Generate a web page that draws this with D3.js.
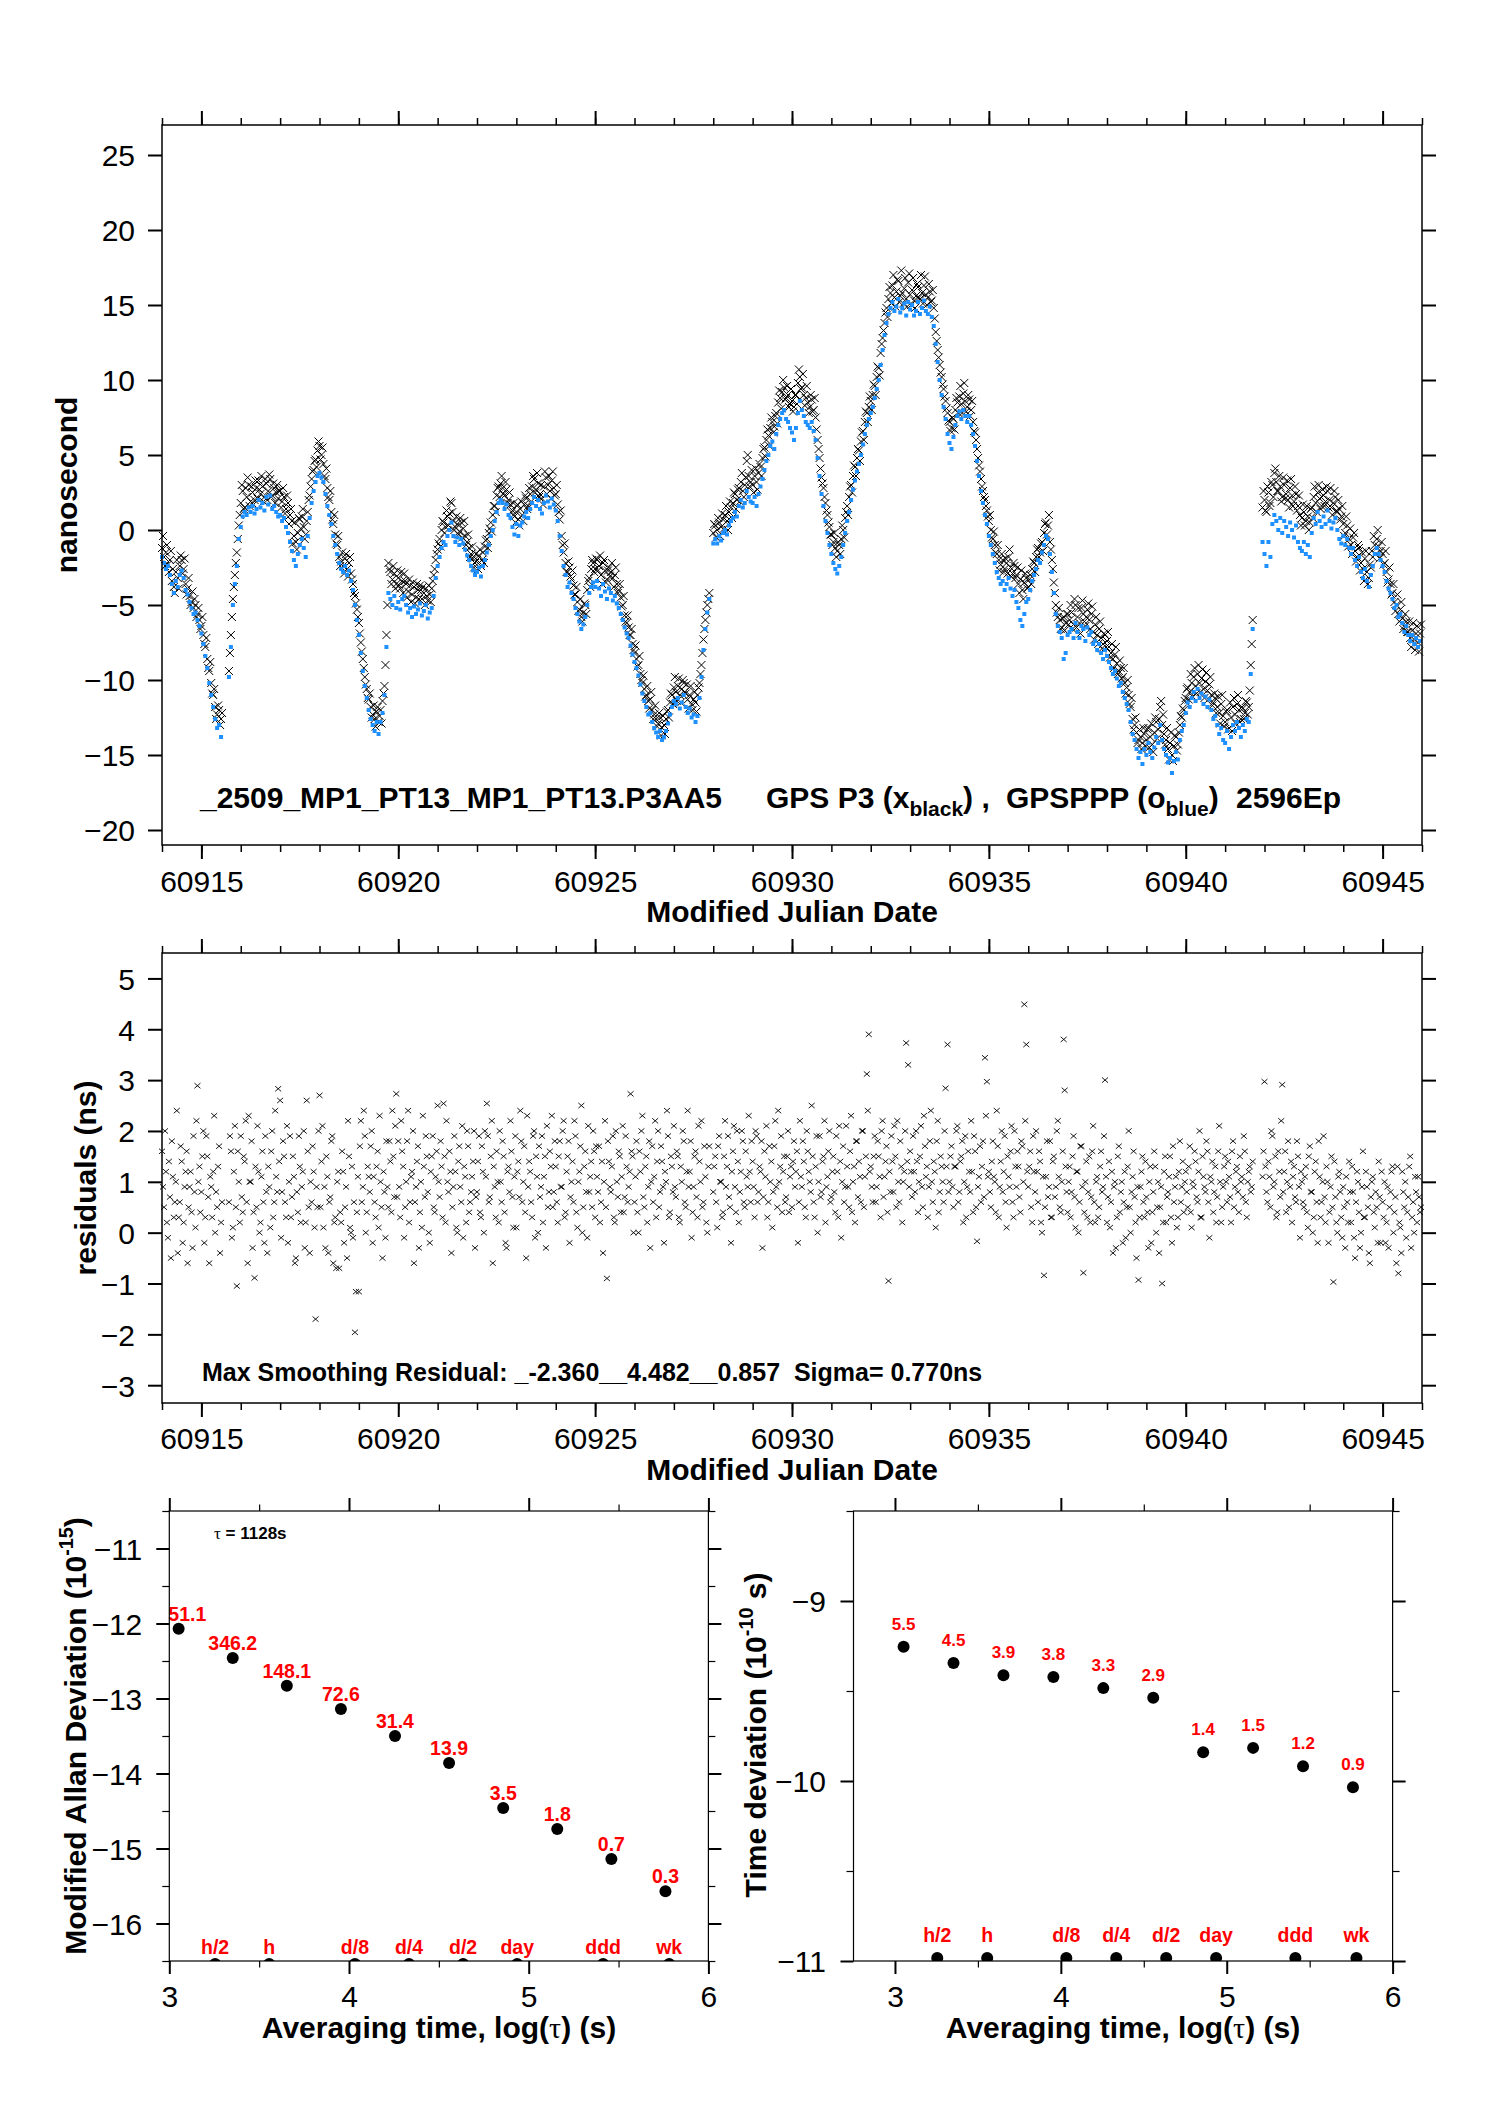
<!DOCTYPE html>
<html><head><meta charset="utf-8"><title>GPS P3 vs GPSPPP</title>
<script src="https://cdn.jsdelivr.net/npm/d3@7/dist/d3.min.js"></script>
<style>
html,body{margin:0;padding:0;background:#fff;}
svg{display:block;}
</style></head>
<body>
<svg id="chart" width="1488" height="2105" xmlns="http://www.w3.org/2000/svg"></svg>
<script>
// ---------------- DATA ----------------
// epochs: MJD 60914.00 + i*0.05 (series A) and 60914.025 + i*0.05 (series B); one row per day, 20 values
const mjdStart = 60914.0;
const mjdStartB = 60914.025;
const mjdStep = 0.05;

// GPS P3 clock offset (ns), black x
const p3Ns = [
-1.2,-1.8,-1.5,-2.3,-2.0,-3.4,-3.8,-2.8,-3.2,-2.4,-2.0,-2.6,-3.6,-3.9,-4.4,-4.8,-5.2,-5.0,-5.6,-6.0,
-6.4,-7.0,-7.8,-8.6,-9.4,-10.2,-11.0,-11.8,-12.3,-12.0,-12.6,null,null,null,-9.4,-7.0,-4.6,-3.0,-1.5,0.3,
1.8,2.6,1.5,2.2,3.0,1.9,2.5,2.0,2.8,3.3,2.4,2.9,2.2,3.1,2.6,3.4,2.3,2.8,2.5,2.1,
2.6,1.9,2.2,1.4,1.8,1.0,0.6,-0.4,-0.8,-0.2,0.7,0.9,0.2,-0.3,1.2,2.3,3.4,4.0,4.7,5.3,
5.6,5.0,4.4,3.4,2.8,2.0,1.2,0.4,-0.3,-1.0,-1.8,-2.1,-2.4,-1.9,-2.6,-2.2,-2.9,-3.6,-4.4,-5.3,
-6.2,-7.5,-8.6,-9.8,-10.6,-11.3,-11.8,-12.3,-12.6,-12.1,-12.8,-12.0,-11.4,-10.4,-7.0,-2.2,-2.8,-3.3,-2.9,-3.6,
-3.2,-3.9,-3.4,-2.9,-3.6,-4.1,-3.7,-4.3,-3.8,-4.5,-4.0,-3.7,-4.6,-4.2,-3.9,-4.7,-4.3,-3.9,-3.0,-2.0,
-1.3,-0.6,0.0,0.5,0.2,0.9,1.1,1.8,0.6,0.2,0.4,-0.1,0.5,0.1,-0.4,-0.8,-1.2,-1.6,-1.9,-2.2,
-2.0,-1.7,-2.4,-1.5,-1.1,-0.6,-0.2,0.5,1.0,1.6,2.3,2.9,3.1,2.8,2.3,2.7,2.0,1.7,1.3,0.9,
1.2,0.7,1.4,1.0,1.7,2.1,1.6,2.4,2.9,3.4,2.7,3.1,2.4,2.1,2.9,3.5,3.0,2.6,3.3,2.8,
2.4,1.7,0.7,-0.4,-1.5,-2.2,-2.8,-2.5,-3.3,-3.7,-4.3,-4.8,-5.3,-5.8,-5.5,-5.0,-4.0,-3.2,-2.6,-2.2,
-2.6,-2.0,-2.4,-3.0,-2.2,-2.7,-3.3,-2.5,-2.8,-3.2,-3.0,-3.6,-4.0,-4.5,-5.0,-5.7,-6.2,-6.5,-7.0,-7.6,
-8.2,-8.6,-9.0,-9.6,-10.2,-10.6,-11.0,-11.4,-11.3,-12.0,-12.3,-12.6,-12.9,-12.5,-13.2,-13.0,-12.6,-12.0,-11.5,-11.0,
-10.5,-10.8,-10.4,-11.0,-10.6,-10.2,-10.9,-11.3,-11.0,-11.6,-11.3,-11.5,-11.0,-10.2,-9.0,-7.3,-6.0,-5.0,-4.2,null,
-0.2,0.3,0.0,0.5,0.2,0.7,1.0,0.6,1.2,1.5,1.8,2.4,2.0,2.8,3.2,2.6,3.0,4.6,3.6,3.2,
3.0,3.6,3.2,3.8,4.2,4.8,5.5,6.0,6.3,6.8,7.2,6.9,7.8,8.5,8.8,9.2,9.5,8.8,9.0,8.4,
8.6,8.2,9.0,9.8,10.2,9.5,9.0,8.8,8.5,8.2,8.7,8.0,7.5,6.0,4.8,3.5,2.8,1.8,1.0,0.2,
-0.3,-0.8,-1.2,-1.4,-1.0,-0.6,0.0,0.8,1.6,2.2,3.0,3.6,4.2,4.8,5.3,5.9,6.6,7.2,7.8,8.2,
8.6,9.0,9.6,10.2,10.8,11.8,12.8,13.8,14.8,15.4,15.8,16.3,15.5,15.9,16.6,15.6,15.8,16.1,15.4,16.5,
15.7,16.0,15.3,15.6,16.2,15.4,15.8,16.3,15.7,15.5,15.9,15.3,14.8,13.2,12.0,11.0,10.2,9.4,8.6,7.8,
7.2,6.8,7.4,8.0,8.5,8.9,8.4,9.1,8.6,8.2,8.7,8.0,7.2,6.5,5.4,4.3,3.4,2.6,2.0,1.3,
0.6,0.0,-0.6,-1.0,-1.6,-2.0,-2.3,-2.0,-2.6,-2.2,-1.8,-2.5,-2.9,-2.4,-3.0,-3.6,-3.3,-4.0,-3.5,-3.2,
-3.8,-3.0,-2.6,-2.2,-1.8,-1.2,-1.5,-0.8,-0.2,0.5,0.3,-0.8,-2.0,-3.5,-5.0,-5.8,-6.0,-6.5,-5.8,-6.2,
-5.6,-6.0,-5.5,-6.3,-5.0,-5.8,-6.2,-5.2,-5.6,-6.4,-5.3,-6.0,-5.6,-6.8,-6.3,-7.0,-6.6,-7.2,-7.6,-7.0,
-7.4,-7.8,-8.2,-8.6,-8.3,-8.9,-9.4,-9.2,-9.8,-10.2,-10.5,-11.0,-11.8,-12.6,-13.0,-13.5,-14.0,-13.8,-14.2,-13.6,
-14.0,-13.2,-13.8,-14.3,-13.5,-12.8,-13.3,-11.8,-13.0,-13.6,-14.0,-14.6,-14.2,-15.0,-14.4,-13.8,-14.3,-13.0,-12.5,-12.0,
-11.2,-10.5,-10.8,-10.2,-9.8,-10.4,-9.6,-10.2,-9.9,-10.6,-10.1,-10.7,-10.3,-11.0,-11.5,-11.2,-11.8,-12.2,-11.6,-12.4,
-12.8,-12.0,-13.2,-12.5,-11.8,-12.3,-11.6,-12.0,-12.6,-11.9,-12.2,-11.5,-11.8,-9.0,-6.0,null,null,null,null,1.5,
2.0,1.2,2.5,1.8,3.0,3.8,3.2,2.6,2.9,2.2,3.0,2.4,2.0,2.8,2.3,1.9,2.4,1.6,1.0,0.8,
1.2,0.6,0.9,0.5,1.5,2.2,1.8,2.5,2.1,1.6,2.3,1.9,2.6,2.0,1.5,1.8,2.2,1.2,1.4,0.9,
0.4,-0.2,0.3,-0.6,-1.0,-0.5,-1.4,-1.8,-1.2,-2.2,-2.6,-1.9,-2.8,-3.2,-2.5,-1.8,-1.0,-0.6,-1.1,-1.4,
-1.6,-2.2,-2.8,-3.3,-3.6,-4.2,-4.8,-5.0,-5.6,-5.3,-5.9,-6.4,-6.1,-6.8,-7.2,-6.7,-7.3,-6.9,-7.5,-6.9
];
const p3NsB = [
-0.4,-2.4,-1.0,-2.8,-1.4,-2.6,-4.2,-2.0,-3.9,-1.7,-2.9,-1.9,-4.3,-3.2,-5.0,-4.1,-4.6,-5.8,-5.2,-6.6,
-5.8,-7.6,-7.2,-9.2,-8.8,-10.9,-10.6,-12.6,-11.7,-13.0,-12.2,null,null,null,-8.2,-5.8,-3.8,-2.2,-0.6,1.0,
3.0,1.4,2.8,3.5,1.6,2.9,1.7,3.3,2.1,2.7,3.6,1.9,3.4,2.0,3.7,2.2,3.1,1.8,3.0,2.6,
1.5,2.8,1.1,2.3,0.4,1.4,-0.9,0.5,-1.3,0.8,0.1,1.4,-0.6,0.6,2.0,2.9,3.9,4.6,4.2,5.9,
4.7,5.5,3.6,4.1,2.2,2.6,0.7,1.0,-0.9,-0.4,-2.4,-1.5,-2.9,-1.6,-3.1,-1.8,-3.3,-4.2,-4.9,-5.8,
-6.9,-8.1,-9.2,-10.3,-11.2,-10.9,-12.5,-11.7,-13.1,-11.8,-12.4,-12.9,-10.9,-9.0,-5.0,-2.6,-3.6,-2.4,-3.9,-2.7,
-3.7,-2.8,-4.2,-3.4,-4.5,-3.3,-4.8,-3.5,-4.9,-3.6,-4.6,-4.0,-3.8,-5.0,-4.4,-3.7,-4.8,-3.4,-2.6,-1.6,
-0.9,-1.1,0.6,-0.2,1.3,0.3,1.9,1.2,0.0,0.9,-0.3,0.8,-0.5,0.6,-1.0,-0.3,-1.8,-1.1,-2.5,-1.6,
-2.6,-1.3,-2.0,-2.2,-0.7,-1.2,0.1,-0.1,1.6,1.2,2.8,2.2,3.6,2.4,3.2,1.8,2.5,1.2,1.8,0.5,
1.7,0.3,1.9,0.6,2.3,1.4,2.8,1.9,3.6,2.5,3.8,2.2,3.0,1.7,3.9,2.4,3.6,2.1,3.9,2.3,
3.0,1.2,1.3,-1.0,-0.9,-2.8,-2.1,-3.1,-2.7,-4.3,-3.8,-5.4,-4.6,-6.1,-4.9,-5.6,-3.4,-3.8,-2.0,-2.8,
-1.9,-2.7,-1.7,-3.6,-2.0,-3.5,-2.7,-3.1,-2.2,-3.8,-2.5,-4.2,-3.6,-5.1,-4.4,-6.1,-5.7,-7.0,-6.6,-8.0,
-7.7,-9.1,-8.4,-10.0,-9.7,-11.1,-10.4,-11.9,-10.8,-12.6,-11.7,-13.1,-12.2,-13.7,-12.4,-13.6,-12.1,-12.5,-10.9,-11.6,
-9.8,-11.4,-9.9,-11.5,-10.0,-10.8,-10.3,-11.9,-10.4,-12.0,-10.8,-12.1,-10.5,-9.6,-8.2,-6.6,-5.5,-4.6,null,null,
0.4,-0.5,0.8,-0.4,1.1,0.1,1.6,0.0,1.9,0.8,2.5,1.4,2.7,1.9,3.8,2.2,3.5,5.0,2.9,4.0,
2.5,4.1,2.7,4.4,3.6,5.4,4.9,6.7,5.6,7.5,6.5,7.6,7.1,9.3,8.1,10.0,8.7,9.6,8.2,9.4,
7.9,9.0,8.4,10.7,9.4,10.4,8.3,9.6,7.8,9.0,7.9,8.8,6.7,5.4,4.1,3.1,2.2,1.3,0.5,-0.3,
-1.0,-0.2,-1.8,-0.8,-1.6,0.3,-0.5,1.2,1.0,2.9,2.5,4.3,3.6,5.4,4.6,6.5,6.0,7.9,7.2,8.9,
8.0,9.7,9.0,10.9,10.3,12.4,13.3,14.5,14.2,16.2,15.1,17.0,14.9,16.7,15.2,17.3,15.1,16.8,14.9,17.1,
15.0,16.8,14.8,16.4,15.5,17.0,15.1,16.9,15.0,16.4,15.2,16.0,14.1,12.6,11.5,10.5,9.7,8.9,8.1,7.3,
6.6,7.5,6.7,8.8,7.8,9.6,7.8,9.8,7.9,9.0,7.6,8.6,6.6,6.0,4.8,3.9,2.9,2.2,1.6,0.9,
1.0,-0.5,-0.1,-1.5,-1.0,-2.7,-1.6,-2.8,-1.9,-2.9,-1.3,-3.1,-2.2,-3.2,-2.5,-4.2,-2.7,-4.6,-2.9,-3.9,
-3.3,-3.6,-2.1,-2.8,-1.3,-1.8,-0.9,-1.4,0.4,-0.3,1.0,-1.3,-2.6,-4.2,-5.5,-5.2,-6.6,-5.9,-6.7,-5.6,
-6.3,-5.0,-6.6,-4.6,-6.5,-5.2,-6.9,-4.7,-6.1,-5.8,-4.9,-6.6,-5.1,-7.3,-5.8,-7.6,-6.1,-7.9,-6.9,-7.8,
-6.8,-8.5,-7.6,-9.2,-7.8,-9.6,-8.7,-9.9,-9.2,-10.9,-10.0,-11.6,-11.2,-13.3,-12.5,-14.2,-13.3,-14.6,-13.2,-14.4,
-13.3,-14.5,-12.9,-14.8,-12.5,-13.9,-12.6,-11.4,-12.3,-14.3,-13.2,-15.3,-13.5,-15.4,-13.7,-14.7,-13.5,-12.4,-11.9,-11.4,
-10.6,-11.3,-9.6,-11.1,-9.2,-10.9,-9.0,-10.8,-9.3,-11.2,-9.5,-11.3,-9.8,-11.7,-10.9,-12.2,-11.1,-12.9,-11.0,-13.1,
-12.1,-13.3,-11.5,-13.4,-11.2,-12.9,-11.0,-12.8,-11.8,-12.6,-11.4,-12.3,-10.7,-7.6,null,null,null,null,null,2.6,
1.3,2.9,1.6,3.2,2.2,4.1,2.6,3.6,1.9,3.5,2.1,3.3,1.5,3.4,1.6,2.9,1.3,2.3,0.3,1.7,
0.3,1.6,0.0,1.4,0.8,2.9,1.2,3.0,1.4,2.7,1.6,2.9,1.5,2.8,1.0,2.6,1.3,2.0,0.7,1.6,
-0.4,0.9,-1.1,0.1,-1.6,-0.2,-2.1,-1.0,-2.7,-1.5,-3.4,-1.4,-3.6,-2.3,-1.4,-0.4,-1.6,0.0,-1.9,-0.8,
-2.3,-1.4,-3.5,-2.5,-4.3,-3.6,-5.4,-4.3,-6.1,-4.8,-6.6,-5.6,-6.8,-6.1,-7.8,-6.2,-8.0,-6.4,-8.1,-6.3
];

// GPSPPP clock offset (ns), blue
const pppNs = [
-1.8,-2.2,-2.6,-2.4,-3.0,-3.6,-4.2,-3.4,-3.8,-3.0,-2.7,-3.2,-4.0,-4.3,-4.8,-5.2,-5.6,-5.5,-6.0,-6.4,
-6.9,-7.6,-8.4,-9.2,-10.2,-11.0,-11.8,-12.6,-13.2,-13.0,-13.8,null,null,null,-9.8,-7.8,-5.0,-3.6,-2.4,-0.6,
0.2,0.9,1.2,1.0,1.5,1.2,1.6,1.1,1.4,2.0,1.5,1.8,1.3,2.2,1.7,2.3,1.4,1.6,1.2,0.9,
1.0,0.6,0.8,0.2,-0.2,-0.8,-1.4,-2.0,-2.4,-1.6,-1.0,-0.6,-1.2,-1.8,-0.4,0.8,1.8,2.6,3.2,3.6,
3.8,3.5,3.2,2.4,1.6,1.0,0.4,-0.4,-1.0,-1.6,-2.2,-2.6,-2.8,-2.4,-3.0,-2.7,-3.4,-4.0,-5.0,-6.0,
-7.0,-8.2,-9.4,-10.4,-11.2,-12.0,-12.6,-13.0,-13.4,-12.8,-13.6,-12.8,-12.2,-11.0,-7.8,-4.2,-4.6,-5.0,-4.4,-5.2,
-4.8,-5.3,-4.6,-4.4,-5.0,-5.5,-5.2,-5.8,-5.1,-5.6,-5.3,-4.9,-5.7,-5.4,-5.0,-5.9,-5.5,-5.2,-4.4,-3.2,
-2.4,-1.8,-1.2,-0.8,-1.0,-0.4,0.0,0.5,-0.4,-0.8,-0.5,-1.0,-0.6,-0.9,-1.3,-1.7,-2.0,-2.4,-2.7,-3.0,
-2.8,-2.5,-3.1,-2.4,-2.0,-1.5,-1.0,-0.4,0.0,0.6,1.2,1.8,2.0,1.8,1.4,1.7,1.0,0.8,0.2,-0.3,
0.4,-0.4,0.3,0.5,0.9,1.2,0.8,1.4,1.8,2.2,1.6,2.0,1.4,1.1,1.8,2.3,1.9,1.5,2.1,1.7,
1.3,0.6,-0.4,-1.4,-2.4,-3.0,-3.8,-3.5,-4.2,-4.6,-5.2,-5.6,-6.1,-6.6,-6.3,-5.8,-5.0,-4.2,-3.8,-3.5,
-3.8,-3.4,-3.9,-4.4,-3.6,-4.1,-4.6,-3.9,-4.2,-4.7,-4.4,-4.9,-5.2,-5.6,-6.0,-6.5,-6.9,-7.2,-7.7,-8.3,
-8.8,-9.2,-9.7,-10.3,-10.9,-11.4,-11.8,-12.3,-12.2,-12.8,-13.2,-13.5,-13.8,-13.4,-14.0,-13.8,-13.4,-12.9,-12.3,-11.8,
-11.4,-11.6,-11.2,-11.9,-11.5,-11.0,-11.8,-12.2,-11.9,-12.5,-12.3,-12.8,-12.4,-11.2,-9.8,-8.0,-6.6,-5.5,-4.6,null,
-0.9,-0.6,-0.9,-0.4,-0.7,-0.2,0.0,-0.3,0.3,0.6,0.8,1.2,0.9,1.6,2.0,1.5,1.8,2.6,2.2,1.9,
1.8,2.2,1.6,2.4,2.9,3.4,4.0,4.6,5.0,5.6,5.9,5.4,6.4,7.0,7.4,7.8,8.0,7.4,7.2,6.8,
6.5,6.0,6.8,7.8,8.6,8.0,7.6,7.2,7.0,6.8,7.2,6.6,6.0,4.8,3.6,2.4,1.6,0.6,-0.2,-1.0,
-1.6,-2.2,-2.6,-2.9,-2.4,-1.8,-1.0,-0.2,0.6,1.2,2.0,2.7,3.3,3.9,4.4,5.0,5.7,6.4,7.0,7.4,
7.8,8.2,8.8,9.4,10.0,11.0,12.0,13.0,13.8,14.4,14.8,15.2,14.6,14.9,15.4,14.5,14.8,15.1,14.3,15.2,
14.7,15.0,14.3,14.6,15.2,14.4,14.8,15.3,14.6,14.4,14.9,14.2,13.6,12.4,11.2,10.0,9.0,8.2,7.4,6.4,
5.8,5.4,6.2,7.0,7.6,7.9,7.4,8.0,7.6,7.2,7.6,7.0,6.4,5.6,4.6,3.6,2.6,1.8,1.0,0.4,
-0.4,-1.0,-1.6,-2.2,-2.8,-3.2,-3.6,-3.4,-4.0,-3.6,-3.2,-3.9,-4.4,-4.0,-4.8,-5.2,-6.0,-6.4,-5.6,-4.8,
-4.6,-4.0,-3.4,-3.0,-2.6,-2.0,-2.2,-1.5,-1.0,-0.4,-0.6,-1.6,-2.8,-4.2,-5.6,-6.4,-6.8,-7.2,-8.6,-8.2,
-7.0,-6.8,-6.6,-7.2,-6.2,-6.8,-7.2,-6.4,-6.6,-7.4,-6.5,-7.0,-6.8,-7.6,-7.4,-8.0,-7.6,-8.2,-8.6,-8.0,
-8.4,-8.8,-9.2,-9.6,-9.4,-9.9,-10.4,-10.2,-10.8,-11.2,-11.6,-12.0,-12.8,-13.6,-14.0,-14.6,-15.2,-14.8,-15.6,-14.6,
-15.0,-14.2,-14.8,-15.2,-14.5,-13.8,-14.2,-13.0,-14.0,-14.6,-15.0,-15.5,-15.2,-16.2,-15.4,-14.8,-15.3,-14.0,-13.4,-13.0,
-12.2,-11.5,-11.8,-11.2,-10.8,-11.4,-10.6,-11.2,-10.9,-11.6,-11.1,-11.8,-11.3,-12.0,-12.6,-12.4,-13.0,-13.6,-13.2,-14.0,
-14.2,-13.4,-14.6,-13.8,-13.0,-13.4,-12.8,-13.2,-13.8,-13.0,-13.4,-12.6,-12.8,-9.6,-6.6,null,null,null,null,-0.8,
-1.6,-2.4,-0.8,-1.8,0.4,1.0,0.6,0.0,0.8,-0.2,0.6,0.2,-0.4,0.5,0.0,-0.5,0.3,-0.8,-1.2,-1.4,
-0.8,-1.6,-1.0,-1.8,-0.2,0.8,0.4,1.2,0.6,0.2,0.9,0.4,1.3,0.6,0.1,0.5,0.8,0.0,-0.6,-0.9,
-0.4,-1.0,-0.6,-1.2,-1.6,-1.2,-2.0,-2.4,-1.8,-2.8,-3.2,-2.6,-3.4,-3.8,-3.0,-2.4,-1.6,-1.2,-1.6,-2.0,
-2.4,-2.8,-3.4,-3.9,-4.2,-4.6,-5.2,-5.0,-5.8,-5.6,-6.2,-6.8,-6.4,-7.0,-7.4,-7.0,-7.6,-7.2,-7.8,-7.4
];

// smoothing residuals (ns), black x
const residNs = [
1.6,0.5,1.2,-0.1,0.7,1.8,0.3,1.0,-0.4,0.6,1.4,0.2,1.2,-0.6,0.9,0.4,1.9,0.1,2.89,1.3,
0.8,2.0,0.3,1.5,-0.6,0.9,1.2,0.0,0.5,1.7,0.2,null,null,null,0.6,1.6,0.1,2.1,-1.05,1.0,
1.9,0.4,1.4,0.6,2.3,1.0,-0.3,-0.89,0.5,1.2,0.2,1.6,-0.2,0.8,1.3,0.1,2.0,0.6,1.1,2.83,
2.6,0.8,1.5,0.3,-0.2,1.9,0.7,1.1,-0.5,0.4,1.3,0.9,2.0,0.2,1.6,-0.4,0.6,1.2,-1.7,0.5,
2.7,1.4,0.1,-0.3,1.1,0.6,1.8,-0.6,0.3,1.0,-0.7,0.2,1.2,0.5,-0.5,1.5,0.0,-0.1,-1.96,0.4,
-1.16,2.2,0.9,1.9,0.4,1.1,1.7,-0.2,0.6,1.3,0.1,1.0,-0.5,0.8,1.8,0.5,1.4,2.4,0.7,2.73,
1.8,0.3,1.6,-0.1,1.0,2.4,0.6,1.2,-0.6,0.9,1.7,0.4,0.1,1.3,1.9,0.8,-0.2,1.5,0.5,1.1,
2.5,0.7,1.3,2.54,0.2,1.0,1.6,-0.4,0.9,1.2,0.0,1.7,0.6,-0.1,1.1,2.0,0.4,0.8,1.4,-0.3,
0.8,1.9,0.3,1.2,2.0,2.54,0.6,1.5,-0.6,0.9,1.6,0.2,1.0,1.8,0.4,-0.3,1.3,2.2,0.7,1.1,
0.1,1.4,2.4,0.6,1.7,-0.5,0.9,1.2,0.3,2.0,1.5,0.0,0.7,1.9,1.1,-0.3,0.5,1.6,2.3,0.8,
1.3,0.2,1.8,0.9,2.2,0.4,1.5,-0.2,1.0,0.6,1.9,0.1,1.2,2.5,0.5,1.6,-0.1,0.8,1.4,2.0,
0.3,1.1,1.7,0.6,-0.4,2.2,-0.9,1.4,0.8,1.9,0.2,1.0,1.6,0.4,2.1,0.7,1.3,0.9,2.73,1.5,
0.6,1.8,0.0,1.2,2.3,0.5,1.5,0.9,-0.3,1.7,1.1,0.3,2.0,0.8,1.4,-0.2,1.0,1.9,0.4,1.3,
2.1,0.7,1.5,0.2,1.0,1.8,0.5,2.4,1.2,-0.1,0.9,1.6,0.3,1.4,2.2,0.6,1.1,0.0,1.7,null,
0.8,1.5,0.1,1.9,1.0,0.4,2.2,1.3,0.7,-0.2,1.6,0.9,2.0,0.2,1.2,1.8,0.5,1.1,2.3,0.6,
1.4,0.3,1.9,0.8,1.2,-0.3,1.6,2.1,0.6,1.0,0.1,1.7,0.9,2.4,1.3,0.4,1.5,0.7,2.0,1.1,
0.5,1.8,1.2,-0.2,2.2,0.9,1.4,0.3,1.6,1.0,2.5,0.6,1.3,0.0,1.9,0.8,1.5,0.2,1.1,2.0,
0.7,1.5,0.4,1.2,2.1,-0.1,1.7,0.9,1.3,0.5,2.3,1.0,0.2,1.8,1.4,0.6,2.0,1.1,3.12,3.9,
1.3,0.6,1.9,0.9,1.5,0.3,2.2,1.1,1.7,-0.95,0.8,1.4,2.1,0.5,1.0,1.8,0.2,1.2,3.73,3.3,
1.6,0.7,1.2,2.0,0.4,1.5,0.9,2.3,1.1,0.3,1.8,1.0,1.4,0.1,2.2,0.8,1.3,0.6,2.84,3.7,
1.0,1.7,0.5,1.3,2.1,0.8,1.5,0.2,1.9,0.9,1.2,2.2,0.4,1.6,-0.17,1.1,0.6,1.8,3.44,2.97,
1.2,0.5,1.8,1.0,2.4,0.3,1.4,0.8,1.9,0.1,1.1,1.6,0.6,2.0,0.9,1.3,0.4,1.7,4.49,3.7,
0.9,1.6,0.2,1.2,2.0,0.6,1.4,0.0,-0.84,1.1,0.7,1.8,0.3,1.5,0.9,2.2,0.5,1.0,3.8,1.3,
0.4,1.3,0.8,1.9,0.1,1.2,0.6,1.7,-0.79,1.0,0.3,1.5,0.7,2.1,0.2,1.1,0.5,1.6,0.9,3.0,
0.2,1.4,0.6,-0.4,1.0,0.3,1.7,0.8,-0.2,1.2,0.5,2.0,0.0,1.1,0.7,-0.5,-0.93,0.9,1.5,0.3,
0.7,-0.3,1.3,0.4,1.6,0.0,1.0,0.5,-1.0,1.2,0.2,0.8,1.5,-0.2,0.6,1.1,0.3,1.8,0.9,0.4,
1.2,0.5,1.7,0.1,0.9,1.4,0.6,2.0,0.3,1.1,0.8,1.6,-0.1,1.0,0.4,1.3,0.7,2.1,0.2,0.9,
1.5,0.6,1.1,0.2,1.8,0.9,1.3,0.4,1.0,0.7,1.6,0.3,1.2,0.8,1.4,null,null,null,null,1.1,
2.97,0.8,1.4,0.5,1.9,1.0,0.3,1.6,0.7,2.91,1.2,0.4,1.8,0.9,0.2,1.3,0.6,1.5,-0.1,1.0,
0.5,1.3,0.1,1.7,0.8,0.3,1.4,-0.2,1.1,0.6,1.9,0.2,1.0,0.4,1.5,-0.97,0.7,0.0,1.2,0.3,
0.9,-0.3,0.6,1.4,0.2,0.8,-0.5,1.2,0.4,0.0,1.6,0.3,0.9,-0.4,0.7,1.1,0.1,0.5,1.4,-0.2,
0.6,1.0,0.2,-0.3,0.8,1.3,0.4,-0.6,-0.8,0.1,1.2,0.5,-0.1,0.7,1.5,0.3,0.0,0.8,1.1,0.4
];
const residNsB = [
0.9,2.0,0.2,1.4,-0.5,1.1,0.6,2.4,0.3,1.7,-0.2,0.9,1.6,0.5,1.2,-0.3,0.8,2.2,1.0,0.4,
1.5,-0.2,1.9,0.7,1.1,0.3,2.3,0.8,1.3,-0.4,0.6,null,null,null,1.9,-0.1,1.2,0.5,1.6,0.2,
0.7,1.5,2.2,-0.6,1.0,1.8,0.4,1.3,2.1,0.0,1.1,0.6,1.9,-0.4,0.9,1.6,0.3,2.4,0.8,1.4,
-0.1,1.8,0.6,2.1,1.0,0.3,1.5,-0.6,0.8,1.9,0.2,1.2,-0.3,2.6,0.5,1.0,1.7,0.1,0.9,2.0,
0.5,2.1,0.9,1.5,-0.4,0.7,1.9,0.2,-0.7,1.2,0.4,1.6,-0.2,0.9,2.2,0.1,1.3,0.6,-1.16,1.1,
1.7,0.6,2.4,0.0,1.3,0.8,2.0,1.1,0.3,1.6,2.3,0.5,1.2,-0.1,0.9,1.8,0.4,1.5,2.1,0.7,
0.9,2.2,1.3,0.5,1.8,0.2,1.1,2.0,0.6,1.4,-0.3,1.0,2.3,0.7,1.5,0.0,1.2,1.9,0.4,1.6,
1.0,1.8,0.3,1.5,2.2,0.8,1.2,0.5,1.9,0.1,1.4,0.9,2.1,1.3,0.2,1.7,0.6,1.1,2.0,0.7,
1.4,0.4,1.7,0.0,1.1,1.9,0.7,2.2,1.3,0.3,1.0,2.0,0.6,1.5,-0.2,1.2,0.8,1.6,0.1,1.9,
1.2,0.7,1.8,1.0,0.4,2.3,1.4,0.6,1.9,-0.1,1.1,1.7,0.9,0.2,1.5,2.1,0.8,1.3,0.5,1.8,
0.6,1.5,0.9,2.0,0.3,1.2,1.8,0.7,1.4,2.2,0.4,1.0,1.7,0.0,1.3,0.8,2.1,1.1,0.5,1.6,
1.7,0.8,0.2,1.4,1.0,0.5,1.8,0.9,1.3,0.3,2.0,0.7,1.5,1.1,0.4,1.9,0.6,1.2,1.6,0.0,
1.1,0.4,1.6,2.0,0.7,1.3,0.2,1.8,1.0,0.6,2.2,1.4,0.5,1.7,0.9,1.2,2.4,0.3,1.5,0.8,
0.9,1.6,0.3,1.3,2.0,0.6,1.2,0.9,1.8,0.4,1.5,0.7,2.1,1.0,0.5,1.7,0.2,1.3,null,null,
1.3,0.6,1.7,1.0,0.3,1.5,0.9,1.9,0.5,1.2,2.1,0.4,1.4,0.8,2.0,0.6,1.6,0.9,1.2,1.8,
0.9,2.0,0.6,1.3,1.8,0.7,1.1,0.3,1.7,1.4,0.8,2.2,0.5,1.0,1.9,1.2,0.6,1.5,0.4,1.3,
1.4,0.9,1.6,0.6,1.1,1.8,0.5,2.0,1.2,0.8,1.5,0.3,1.9,1.0,0.7,1.4,2.2,0.9,1.6,0.6,
1.2,0.8,1.9,0.3,1.4,1.0,0.6,2.1,0.9,1.6,0.4,1.3,1.8,0.7,1.1,2.0,0.5,1.5,2.4,1.2,
0.9,1.5,0.6,1.8,1.1,2.0,0.7,1.4,0.4,1.2,1.9,0.8,1.5,2.2,0.6,1.3,1.0,2.0,1.4,0.9,
1.2,1.9,0.8,1.4,1.0,2.1,0.5,1.7,1.3,0.9,2.4,0.6,1.2,1.8,0.4,1.5,1.0,2.0,1.3,0.8,
1.5,0.9,1.3,2.0,0.6,1.4,1.8,1.0,0.3,1.6,0.8,1.2,1.9,0.5,0.9,1.7,1.3,0.7,2.3,1.1,
0.8,1.4,1.1,0.4,1.7,0.9,2.0,1.2,0.6,1.5,0.9,2.1,0.3,1.3,1.6,0.7,1.8,1.0,2.2,1.2,
1.3,0.5,1.9,0.8,1.2,1.6,0.2,1.1,0.5,1.8,0.9,0.3,1.4,0.7,2.0,1.1,0.4,1.6,2.8,0.8,
1.0,0.3,1.5,0.7,1.2,0.0,1.7,0.9,0.4,1.4,0.8,0.2,1.6,0.6,1.0,0.3,1.3,0.8,1.9,1.1,
0.7,0.1,1.2,0.9,-0.3,1.5,0.4,1.0,0.6,-0.1,1.3,0.5,0.8,1.6,0.2,0.9,0.3,1.2,0.6,1.4,
0.4,1.0,-0.2,0.8,1.3,0.5,-0.4,0.9,0.2,1.5,0.7,1.1,0.3,1.7,0.9,0.1,1.2,0.6,1.4,1.0,
0.8,1.3,0.4,1.0,1.6,0.7,1.2,0.3,1.5,0.9,1.8,0.6,1.1,1.4,0.8,0.2,1.6,1.0,0.5,1.3,
1.0,1.4,0.7,1.6,0.5,1.2,0.8,1.5,1.1,1.9,0.6,1.0,1.3,0.9,null,null,null,null,null,1.6,
1.3,0.6,1.1,2.0,0.9,1.5,0.4,1.2,2.2,0.8,1.6,1.0,0.5,1.4,1.1,0.7,1.8,0.9,1.2,0.6,
1.1,0.4,1.5,0.8,0.0,1.2,0.6,1.8,0.3,1.0,0.7,1.3,-0.2,0.9,0.5,1.4,0.2,1.1,0.8,-0.1,
0.5,1.1,0.2,0.8,1.3,-0.1,0.6,1.0,-0.3,0.9,0.3,1.2,0.5,-0.6,1.0,0.4,0.8,-0.2,0.7,1.2,
0.3,-0.2,0.9,0.5,1.2,0.0,0.7,1.3,0.2,-0.4,0.8,1.0,0.4,1.3,-0.3,0.6,1.1,0.2,0.7,0.5
];

const mjdMajorTicks = [60915, 60920, 60925, 60930, 60935, 60940, 60945];
const mjdMinorTicks = d3.range(60914, 60947, 1);
const nsTicks = [-20, -15, -10, -5, 0, 5, 10, 15, 20, 25];
const residTicks = [-3, -2, -1, 0, 1, 2, 3, 4, 5];

// stability analysis
const logTau = [3.052, 3.353, 3.654, 3.955, 4.256, 4.557, 4.858, 5.159, 5.460, 5.761];
const modAdevLog = [-12.07, -12.46, -12.83, -13.14, -13.50, -13.86, -14.46, -14.74, -15.14, -15.57];
const modAdevLabels = ["51.1", "346.2", "148.1", "72.6", "31.4", "13.9", "3.5", "1.8", "0.7", "0.3"];
const tdevLog = [-9.254, -9.345, -9.413, -9.422, -9.484, -9.537, -9.840, -9.816, -9.918, -10.035];
const tdevLabels = ["5.5", "4.5", "3.9", "3.8", "3.3", "2.9", "1.4", "1.5", "1.2", "0.9"];
const periodNames = ["h/2", "h", "d/8", "d/4", "d/2", "day", "ddd", "wk"];
const periodLogTau = [3.255, 3.556, 4.033, 4.334, 4.635, 4.936, 5.414, 5.782];
const logTauMajor = [3, 4, 5, 6];
const logTauMinor = [3.5, 4.5, 5.5];
const adevMajor = [-16, -15, -14, -13, -12, -11];
const adevMinor = [-16.5, -15.5, -14.5, -13.5, -12.5, -11.5, -10.5];
const tdevMajor = [-11, -10, -9];
const tdevMinor = [-10.5, -9.5, -8.5];

// ---------------- DRAWING ----------------
const FONT = "'Liberation Sans', Arial, Helvetica, sans-serif";
const svg = d3.select("#chart");
svg.append("rect").attr("width", 1488).attr("height", 2105).attr("fill", "#fff");

function addAxis(axis, transform, fontSize, sw, dy) {
  const g = svg.append("g").attr("transform", transform).call(axis);
  g.select(".domain").remove();
  g.selectAll(".tick line").attr("stroke", "#000").attr("stroke-width", sw);
  const t = g.selectAll(".tick text").attr("font-size", fontSize).attr("font-family", FONT).attr("fill", "#000");
  if (dy) t.attr("dy", dy);
  return g;
}

function frame(p, sw) {
  svg.append("rect").attr("x", p.left).attr("y", p.top)
    .attr("width", p.right - p.left).attr("height", p.bottom - p.top)
    .attr("fill", "none").attr("stroke", "#000").attr("stroke-width", sw);
}

function axesSet(p, xs, ys, o) {
  addAxis(d3.axisBottom(xs).tickValues(o.xMinor).tickSize(o.xMinLen).tickFormat(""), `translate(0,${p.bottom})`, 10, o.sw);
  addAxis(d3.axisTop(xs).tickValues(o.xMinor).tickSize(o.xMinLen).tickFormat(""), `translate(0,${p.top})`, 10, o.sw);
  addAxis(d3.axisBottom(xs).tickValues(o.xMajor).tickSize(o.xMajLen).tickPadding(o.xPad).tickFormat(o.xFmt), `translate(0,${p.bottom})`, o.tickFont, o.swMaj);
  addAxis(d3.axisTop(xs).tickValues(o.xMajor).tickSize(o.xMajLen).tickFormat(""), `translate(0,${p.top})`, 10, o.swMaj);
  if (o.yMinor) {
    addAxis(d3.axisLeft(ys).tickValues(o.yMinor).tickSize(o.yMinLen).tickFormat(""), `translate(${p.left},0)`, 10, o.sw);
    addAxis(d3.axisRight(ys).tickValues(o.yMinor).tickSize(o.yMinLen).tickFormat(""), `translate(${p.right},0)`, 10, o.sw);
  }
  addAxis(d3.axisLeft(ys).tickValues(o.yMajor).tickSize(o.yMajLen).tickPadding(o.yPad).tickFormat(d3.format("d")), `translate(${p.left},0)`, o.tickFont, o.swMaj, "0.36em");
  addAxis(d3.axisRight(ys).tickValues(o.yMajor).tickSize(o.yMajLen).tickFormat(""), `translate(${p.right},0)`, 10, o.swMaj);
}

function boldText(x, y, size, str, anchor) {
  return svg.append("text").attr("x", x).attr("y", y).attr("font-family", FONT)
    .attr("font-weight", "bold").attr("font-size", size).attr("text-anchor", anchor || "start")
    .attr("fill", "#000").text(str);
}

function yTitle(x, y, size, parts) {
  const t = svg.append("text").attr("transform", `translate(${x},${y}) rotate(-90)`)
    .attr("font-family", FONT).attr("font-weight", "bold").attr("font-size", size)
    .attr("text-anchor", "middle").attr("fill", "#000");
  parts.forEach(pt => {
    const s = t.append("tspan").text(pt.t);
    if (pt.sup) s.attr("font-size", size * 0.66).attr("dy", -size * 0.42);
    if (pt.after) s.attr("dy", size * 0.42);
  });
  return t;
}

function tauTitle(x, y) {
  const t = svg.append("text").attr("x", x).attr("y", y).attr("font-family", FONT)
    .attr("font-weight", "bold").attr("font-size", 30).attr("text-anchor", "middle").attr("fill", "#000");
  t.append("tspan").text("Averaging time, log(");
  t.append("tspan").attr("font-family", "'Liberation Serif','DejaVu Serif',serif").attr("font-weight", "normal").text("\u03c4");
  t.append("tspan").text(") (s)");
}

function toPoints(arr, start) {
  return arr.map((v, i) => ({t: start + i * mjdStep, v})).filter(d => d.v !== null);
}

// ===== Panel 1: time series =====
const P1 = {left: 162, right: 1422, top: 125, bottom: 845};
const x1 = d3.scaleLinear().domain([60914, 60946]).range([P1.left, P1.right]);
const y1 = d3.scaleLinear().domain([-21, 27]).range([P1.bottom, P1.top]);

const p3Pts = toPoints(p3Ns, mjdStart).concat(toPoints(p3NsB, mjdStartB));
const pppPts = toPoints(pppNs, mjdStart);

svg.append("g").selectAll("path").data(p3Pts).join("path")
  .attr("transform", d => `translate(${x1(d.t)},${y1(d.v)})`)
  .attr("d", "M-4,-4L4,4M-4,4L4,-4").attr("fill", "none").attr("stroke", "#000").attr("stroke-width", 1);
svg.append("g").selectAll("rect").data(pppPts).join("rect")
  .attr("x", d => x1(d.t) - 2).attr("y", d => y1(d.v) - 2).attr("width", 4).attr("height", 4)
  .attr("fill", "#1e90ff");

frame(P1, 1.5);
axesSet(P1, x1, y1, {
  xMinor: mjdMinorTicks, xMajor: mjdMajorTicks, xMinLen: 7, xMajLen: 14, xPad: 12, xFmt: d3.format("d"),
  yMajor: nsTicks, yMajLen: 14, yPad: 13, tickFont: 30, sw: 1.5, swMaj: 2
});
boldText(792, 922, 30, "Modified Julian Date", "middle");
yTitle(77, 485, 30, [{t: "nanosecond"}]);

// legend / title line
const leg = svg.append("text").attr("y", 808).attr("font-family", FONT).attr("font-weight", "bold")
  .attr("font-size", 30).attr("fill", "#000");
leg.append("tspan").attr("x", 200).text("_2509_MP1_PT13_MP1_PT13.P3AA5");
leg.append("tspan").attr("x", 766).text("GPS P3 (x");
leg.append("tspan").attr("font-size", 21).attr("dy", 8).text("black");
leg.append("tspan").attr("dy", -8).text(") ,");
leg.append("tspan").attr("x", 1006).text("GPSPPP (o");
leg.append("tspan").attr("font-size", 21).attr("dy", 8).text("blue");
leg.append("tspan").attr("dy", -8).text(")");
leg.append("tspan").attr("x", 1236).text("2596Ep");

// ===== Panel 2: residuals =====
const P2 = {left: 162, right: 1422, top: 953, bottom: 1403};
const x2 = d3.scaleLinear().domain([60914, 60946]).range([P2.left, P2.right]);
const y2 = d3.scaleLinear().domain([-3.35, 5.5]).range([P2.bottom, P2.top]);
const resPts = toPoints(residNs, mjdStart).concat(toPoints(residNsB, mjdStartB));
svg.append("g").selectAll("path").data(resPts).join("path")
  .attr("transform", d => `translate(${x2(d.t)},${y2(d.v)})`)
  .attr("d", "M-3,-2.6L3,2.6M-3,2.6L3,-2.6").attr("fill", "none").attr("stroke", "#000").attr("stroke-width", 0.9);
frame(P2, 1.5);
axesSet(P2, x2, y2, {
  xMinor: mjdMinorTicks, xMajor: mjdMajorTicks, xMinLen: 7, xMajLen: 14, xPad: 11, xFmt: d3.format("d"),
  yMajor: residTicks, yMajLen: 14, yPad: 13, tickFont: 30, sw: 1.5, swMaj: 2
});
boldText(792, 1480, 30, "Modified Julian Date", "middle");
yTitle(96, 1178, 30, [{t: "residuals (ns)"}]);
boldText(202, 1381, 25, "Max Smoothing Residual: _-2.360__4.482__0.857  Sigma= 0.770ns")
  .attr("xml:space", "preserve").style("white-space", "pre");

// ===== Panel 3: Modified Allan deviation =====
const P3 = {left: 169.3, right: 708.4, top: 1511, bottom: 1961};
const x3 = d3.scaleLinear().domain([3, 6]).range([P3.left, P3.right]);
const y3 = d3.scaleLinear().domain([-16.5, -10.5]).range([P3.bottom, P3.top]);
svg.append("clipPath").attr("id", "clip3").append("rect")
  .attr("x", P3.left).attr("y", P3.top).attr("width", P3.right - P3.left).attr("height", P3.bottom - P3.top);

// ===== Panel 4: Time deviation =====
const P4 = {left: 853.5, right: 1392.6, top: 1511, bottom: 1961};
const x4 = d3.scaleLinear().domain([2.75, 6]).range([P4.left, P4.right]);
const y4 = d3.scaleLinear().domain([-11, -8.5]).range([P4.bottom, P4.top]);
svg.append("clipPath").attr("id", "clip4").append("rect")
  .attr("x", P4.left).attr("y", P4.top).attr("width", P4.right - P4.left).attr("height", P4.bottom - P4.top);

function stabilityPanel(P, xs, ys, clipId, vals, labels, labelSize, labelGap, markDy, markLabelGap) {
  const g = svg.append("g");
  g.append("g").attr("clip-path", `url(#${clipId})`).selectAll("circle").data(periodLogTau).join("circle")
    .attr("cx", d => xs(d)).attr("cy", ys.range()[0] + markDy).attr("r", 6).attr("fill", "#000");
  g.selectAll("text.pname").data(periodNames).join("text").attr("class", "pname")
    .attr("x", (d, i) => xs(periodLogTau[i])).attr("y", ys.range()[0] - markLabelGap)
    .attr("text-anchor", "middle").attr("font-family", FONT).attr("font-weight", "bold")
    .attr("font-size", 19.5).attr("fill", "#ff0000").text(d => d);
  g.selectAll("circle.pt").data(vals).join("circle").attr("class", "pt")
    .attr("cx", (d, i) => xs(logTau[i])).attr("cy", d => ys(d)).attr("r", 6).attr("fill", "#000");
  const lab = g.selectAll("text.val").data(labels).join("text").attr("class", "val")
    .attr("y", (d, i) => ys(vals[i]) - labelGap)
    .attr("text-anchor", "middle").attr("font-family", FONT).attr("font-weight", "bold")
    .attr("font-size", labelSize).attr("fill", "#ff0000").text(d => d);
  lab.attr("x", function (d, i) {
    const w = this.getComputedTextLength();
    return Math.max(xs(logTau[i]), P.left + w / 2 - 1);
  });
}

stabilityPanel(P3, x3, y3, "clip3", modAdevLog, modAdevLabels, 19.5, 8, 3, 6.7);
frame(P3, 1.2);
axesSet(P3, x3, y3, {
  xMinor: logTauMinor, xMajor: logTauMajor, xMinLen: 6.5, xMajLen: 13, xPad: 12, xFmt: d3.format("d"),
  yMinor: adevMinor, yMinLen: 7, yMajor: adevMajor, yMajLen: 13, yPad: 14, tickFont: 30, sw: 1.2, swMaj: 2
});
tauTitle(439, 2038);
yTitle(86, 1736, 30, [{t: "Modified Allan Deviation (10"}, {t: "-15", sup: true}, {t: ")", after: true}]);
const tauNote = svg.append("text").attr("x", 214).attr("y", 1539).attr("font-family", FONT)
  .attr("font-weight", "bold").attr("font-size", 17).attr("fill", "#000");
tauNote.append("tspan").attr("font-family", "'Liberation Serif','DejaVu Serif',serif").attr("font-weight", "normal").text("\u03c4");
tauNote.append("tspan").text(" = 1128s");

stabilityPanel(P4, x4, y4, "clip4", tdevLog, tdevLabels, 17, 17, -3, 18.7);
frame(P4, 1.2);
axesSet(P4, x4, y4, {
  xMinor: logTauMinor, xMajor: logTauMajor, xMinLen: 6.5, xMajLen: 13, xPad: 12, xFmt: d3.format("d"),
  yMinor: tdevMinor, yMinLen: 7, yMajor: tdevMajor, yMajLen: 13, yPad: 14.6, tickFont: 30, sw: 1.2, swMaj: 2
});
tauTitle(1123, 2038);
yTitle(766, 1735, 30, [{t: "Time deviation (10"}, {t: "-10", sup: true}, {t: " s)", after: true}]);
</script>
</body></html>
